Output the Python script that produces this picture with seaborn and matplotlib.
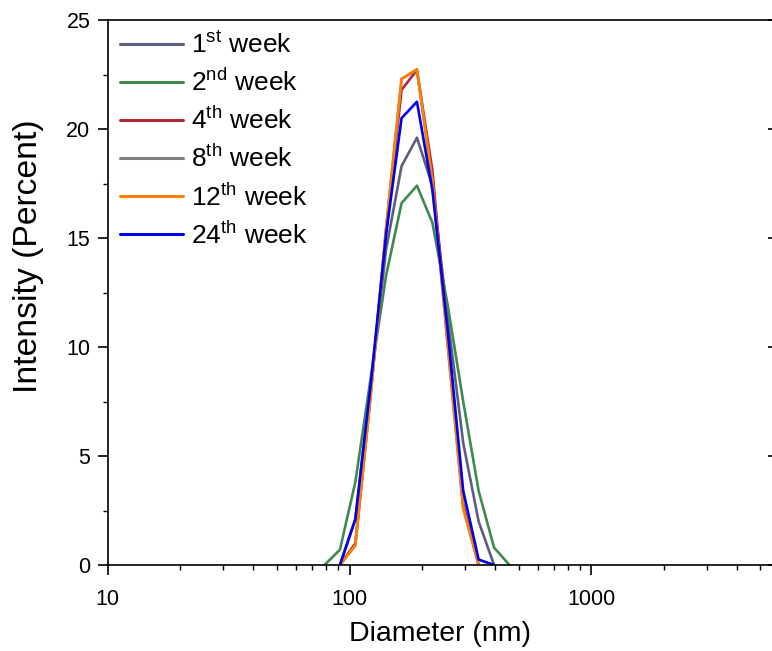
import numpy as np
import pandas as pd
import matplotlib
matplotlib.use("Agg")
import matplotlib.pyplot as plt
import matplotlib.ticker as mticker
import seaborn as sns

# ---- data ----
sizes = [78.82, 91.28, 105.7, 122.4, 141.8, 164.2, 190.1, 220.2, 255.0, 295.3, 342.0, 396.1, 458.7]
nan = np.nan
week1 = [nan, 0.0, 2.1, 8.3, 14.5, 18.3, 19.6, 17.4, 11.3, 5.6, 2.0, 0.0, nan]
week2 = [0.0, 0.7, 3.8, 8.6, 13.3, 16.6, 17.4, 15.7, 11.9, 7.5, 3.4, 0.8, 0.0]
week4 = [nan, 0.0, 1.0, 7.9, 15.3, 21.8, 22.7, 18.1, 10.3, 2.8, 0.0, nan, nan]
week8 = [nan, 0.0, 0.9, 7.8, 15.5, 22.3, 22.7, 17.6, 10.0, 2.6, 0.0, nan, nan]
week12 = [nan, 0.0, 0.9, 7.8, 15.5, 22.3, 22.75, 17.6, 10.1, 2.6, 0.0, nan, nan]
week24 = [nan, 0.0, 2.1, 8.3, 15.2, 20.5, 21.25, 17.2, 10.7, 3.4, 0.25, 0.0, nan]

labels = ["1$^{\\rm st}$ week", "2$^{\\rm nd}$ week", "4$^{\\rm th}$ week",
          "8$^{\\rm th}$ week", "12$^{\\rm th}$ week", "24$^{\\rm th}$ week"]
series = [week1, week2, week4, week8, week12, week24]
colors = ["#5b5f7e", "#3f8a4c", "#b02a3c", "#7f7f7f", "#ff8000", "#0000ee"]

rows = []
for lab, vals in zip(labels, series):
    for s, v in zip(sizes, vals):
        if not np.isnan(v):
            rows.append({"Diameter": s, "Intensity": v, "Series": lab})
df = pd.DataFrame(rows)

sns.set_theme(style="ticks")
plt.rcParams["font.family"] = ["Liberation Sans", "DejaVu Sans"]
plt.rcParams["mathtext.fontset"] = "custom"
plt.rcParams["mathtext.rm"] = "Liberation Sans"
plt.rcParams["mathtext.it"] = "Liberation Sans:italic"
plt.rcParams["mathtext.bf"] = "Liberation Sans:bold"
for k in ["text.color", "axes.labelcolor", "xtick.color", "ytick.color", "axes.edgecolor"]:
    plt.rcParams[k] = "black"

W, H = 772, 651
fig = plt.figure(figsize=(W / 100, H / 100), dpi=100)
left_px, right_px, top_px, bot_px = 107.7, 773.0, 20.0, 565.0
ax = fig.add_axes([left_px / W, 1 - bot_px / H, (right_px - left_px) / W, (bot_px - top_px) / H])

sns.lineplot(data=df, x="Diameter", y="Intensity", hue="Series", hue_order=labels,
             palette=dict(zip(labels, colors)), sort=False, estimator=None,
             linewidth=1.9, ax=ax)

ax.set_xscale("log")
ax.set_xlim(10, 10 ** (1 + (right_px - left_px) / 241.8))
ax.set_ylim(0, 25)
ax.xaxis.set_major_locator(mticker.LogLocator(base=10, numticks=10))
ax.xaxis.set_major_formatter(mticker.FuncFormatter(lambda v, p: f"{v:g}"))
ax.xaxis.set_minor_locator(mticker.LogLocator(base=10, subs=np.arange(2, 10), numticks=20))
ax.xaxis.set_minor_formatter(mticker.NullFormatter())
ax.yaxis.set_major_locator(mticker.MultipleLocator(5))
ax.yaxis.set_minor_locator(mticker.MultipleLocator(2.5))

for sp in ax.spines.values():
    sp.set_linewidth(1.2)
ax.spines["right"].set_visible(False)

ax.tick_params(axis="x", which="major", direction="out", length=7.5, width=1.2,
               labelsize=15.5, pad=10)
ax.tick_params(axis="x", which="minor", direction="out", length=3.8, width=1.0)
ax.tick_params(axis="y", which="major", direction="out", length=7.5, width=1.2,
               labelsize=15.5, pad=5)
ax.tick_params(axis="y", which="minor", direction="out", length=3.8, width=1.0)

# inward ticks on the right edge
ax2 = ax.twinx()
ax2.set_ylim(0, 25)
ax2.yaxis.set_major_locator(mticker.MultipleLocator(5))
ax2.yaxis.set_minor_locator(mticker.NullLocator())
ax2.tick_params(axis="y", which="major", direction="in", length=3.5, width=1.2,
                labelright=False)
for sp in ax2.spines.values():
    sp.set_visible(False)

ax.set_xlabel("Diameter (nm)", fontsize=20.5, labelpad=8)
ax.set_ylabel("Intensity (Percent)", fontsize=24.3)
ax.yaxis.set_label_coords(-0.095, 0.567)

leg = ax.legend(loc="upper left", frameon=False, fontsize=19, handlelength=2.4,
                handletextpad=0.3, labelspacing=0.42, borderaxespad=0.2,
                borderpad=0.25)
for h in leg.get_lines():
    h.set_linewidth(2.2)

fig.savefig("out.png", dpi=100)
